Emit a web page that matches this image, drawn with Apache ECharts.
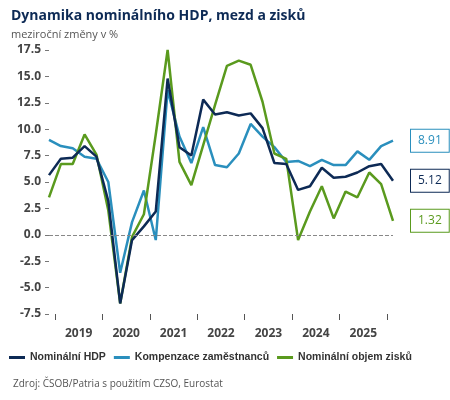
<!DOCTYPE html>
<html>
<head>
<meta charset="utf-8">
<script src="https://cdn.jsdelivr.net/npm/echarts@6/dist/echarts.min.js"></script>
<style>
	html, body { margin: 0; padding: 0; background: #fff; }
	#chart { width: 450px; height: 400px; }
</style>
</head>
<body>
<div id="chart"></div>
<script>
// ctvrtleti 2018Q4 .. 2026Q1 (index)
var quarters = [];
for (var i = 0; i < 30; i++) { quarters.push('Q' + i); }
var years = ['2019', '2020', '2021', '2022', '2023', '2024', '2025'];

var hdp = [5.65, 7.2, 7.3, 8.4, 7.4, 3.2, -6.5, -0.5, 0.8, 2.2, 14.8, 8.3, 7.5, 12.8, 11.4, 11.6, 11.3, 11.5, 10.1, 6.8, 6.7, 4.25, 4.6, 6.35, 5.4, 5.5, 5.9, 6.5, 6.7, 5.12];
var mzdy = [8.98, 8.4, 8.2, 7.4, 7.2, 5.0, -3.6, 1.2, 4.2, -0.5, 13.7, 9.3, 6.8, 10.2, 6.6, 6.4, 7.7, 10.5, 9.3, 8.3, 6.9, 7.0, 6.5, 7.1, 6.6, 6.6, 7.9, 7.1, 8.4, 8.91];
var zisky = [3.55, 6.7, 6.7, 9.5, 7.6, 2.3, -6.5, -0.2, 1.95, 9.5, 17.5, 6.9, 4.7, 8.5, 12.3, 16.0, 16.5, 16.1, 12.6, 7.7, 7.2, -0.5, 2.2, 4.6, 1.55, 4.1, 3.55, 5.9, 4.8, 1.32];

var names = ['Nominální HDP', 'Kompenzace zaměstnanců', 'Nominální objem zisků'];
var colors = ['#0d2a55', '#2a8fbd', '#5a9a1e'];
var seriesData = [hdp, mzdy, zisky];

var chart = echarts.init(document.getElementById('chart'));

function mkSeries(idx) {
	return {
		name: names[idx],
		type: 'line',
		data: seriesData[idx],
		symbol: 'none',
		lineStyle: { width: 2.5, color: colors[idx] },
		itemStyle: { color: colors[idx] },
		endLabel: {
			show: true,
			formatter: function(p) { return p.value.toFixed(2); },
			color: colors[idx],
			fontSize: 12,
			backgroundColor: '#fff',
			borderColor: colors[idx],
			borderWidth: 1,
			padding: [5, 7, 5, 7],
			offset: [10, 0]
		},
		markLine: idx === 0 ? {
			silent: true,
			symbol: 'none',
			label: { show: false },
			lineStyle: { type: 'dashed', color: '#888', width: 1 },
			data: [{ yAxis: 0 }]
		} : undefined
	};
}

var option = {
	animation: false,
	textStyle: { fontFamily: 'Open Sans' },
	title: [{
		text: 'Dynamika nominálního HDP, mezd a zisků',
		left: 6, top: 4,
		textStyle: { fontSize: 14, fontWeight: 'bold', color: '#0d2a55' }
	}, {
		text: 'meziroční změny v %',
		left: 6, top: 24,
		textStyle: { fontSize: 11, fontWeight: 'normal', color: '#555' }
	}, {
		text: 'Zdroj: ČSOB/Patria s použitím CZSO, Eurostat',
		left: 8, top: 374,
		textStyle: { fontSize: 10, fontWeight: 'normal', color: '#555' }
	}],
	legend: {
		top: 347, left: 4, width: 446,
		itemWidth: 16, itemHeight: 3, itemGap: 8,
		icon: 'rect',
		textStyle: { fontSize: 10.5, fontWeight: 'bold', color: '#333', fontFamily: 'Liberation Sans' },
		data: names
	},
	grid: [
		{ left: 49, right: 57, top: 50, bottom: 86 },
		{ left: 55, right: 63, top: 50, bottom: 86 }
	],
	xAxis: [{
		gridIndex: 0,
		type: 'category',
		data: quarters,
		boundaryGap: false,
		axisLine: { show: false },
		axisTick: { show: false },
		axisLabel: { show: false }
	}, {
		gridIndex: 1,
		type: 'category',
		data: years,
		boundaryGap: true,
		offset: 8,
		axisLine: { show: false },
		axisTick: { show: true, length: 6, lineStyle: { color: '#555' } },
		axisLabel: { fontSize: 12, fontWeight: 'bold', color: '#444', margin: 6 }
	}],
	yAxis: [{
		gridIndex: 0,
		type: 'value',
		min: -7.5, max: 17.5, interval: 2.5,
		splitLine: { show: false },
		axisLine: { show: false },
		axisTick: { show: true, length: 4, inside: false, lineStyle: { color: '#777' } },
		axisLabel: {
			fontSize: 12, fontWeight: 'bold', color: '#444', margin: 8,
			formatter: function(v) { return v.toFixed(1); }
		}
	}, {
		gridIndex: 1,
		type: 'value',
		show: false
	}],
	series: [mkSeries(1), mkSeries(2), mkSeries(0)]
};
chart.setOption(option);
</script>
</body>
</html>
